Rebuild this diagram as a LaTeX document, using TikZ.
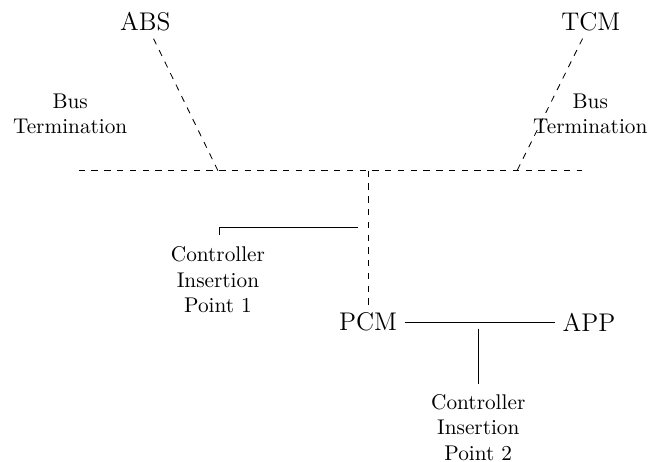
\documentclass[tikz,border=0pt]{standalone}
\usepackage{amsmath}
\usepackage{amssymb}

\tikzset{
	ecu/.style={font=\large},
	note/.style={align=center},
	bus/.style={dashed, line width=0.4pt},
	link/.style={line width=0.4pt}
}

\begin{document}
\begin{tikzpicture}
				\useasboundingbox (0, 0) rectangle (10.72, -7.63);
				\node[ecu] (ABS)at(2.40, -0.36) {ABS};
				\node[ecu] (TCM)at(9.76, -0.36) {TCM};
				\node[ecu] (PCM)at(6.08, -5.32) {PCM};
				\node[ecu] (APP)at(9.73, -5.32) {APP};
				\node[note] (T1)at(1.16, -1.88) {Bus\\Termination};
				\node[note] (T2)at(9.75, -1.88) {Bus\\Termination};
				\node[note] (P1)at(3.60, -4.62) {Controller\\Insertion\\Point 1};
				\node[note, inner sep=1pt] (P2)at(7.90, -7.06) {Controller\\Insertion\\Point 2};
				\coordinate (L)at(1.30, -2.82);
				\coordinate (R)at(9.61, -2.82);
				\coordinate (JA)at(3.60, -2.82);
				\coordinate (JT)at(8.54, -2.82);
				\coordinate (JP)at(6.08, -2.82);
				\coordinate (C1)at(5.91, -3.75);
				\coordinate (K1)at(3.62, -3.75);
				\coordinate (E1)at(3.62, -3.88);
				\coordinate (C2)at(7.91, -5.43);
				\coordinate (E2)at(7.91, -6.34);
				\draw[bus] (L) -- (R);
				\draw[bus] (ABS) -- (JA);
				\draw[bus] (TCM) -- (JT);
				\draw[bus] (JP) -- (PCM);
				\draw[link] (C1) -- (K1) -- (E1);
				\draw[link] (PCM) -- (APP);
				\draw[link] (C2) -- (E2);
			\end{tikzpicture}
\end{document}
